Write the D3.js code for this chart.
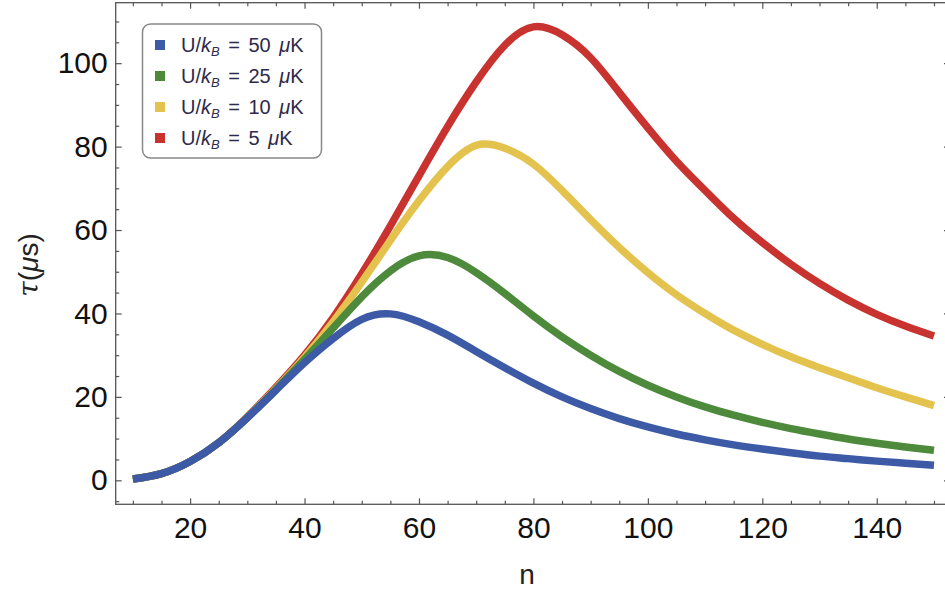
<!DOCTYPE html>
<html>
<head>
<meta charset="utf-8">
<script src="https://cdn.jsdelivr.net/npm/d3@7"></script>
<style>
	body { margin: 0; background: #fff; }
	svg { display: block; font-family: "Liberation Sans", Arial, sans-serif; }
</style>
</head>
<body>
<svg id="chart"></svg>
<script>
// sample points (n -> tau in microseconds)
const nValues = [10, 15, 20, 25, 30, 35, 40, 45, 50, 55, 60, 65, 70, 75, 80, 85, 90, 95, 100, 105, 110, 115, 120, 125, 130, 135, 140, 145, 150];

const tau50 = [0.3, 1.6, 4.5, 9.0, 15.0, 21.6, 28.2, 34.0, 38.6, 39.9, 38.0, 34.8, 30.9, 27.0, 23.3, 20.0, 17.2, 14.8, 12.8, 11.1, 9.7, 8.5, 7.5, 6.6, 5.8, 5.2, 4.6, 4.1, 3.6];
const tau25 = [0.3, 1.6, 4.5, 9.0, 15.0, 21.8, 29.0, 36.5, 44.0, 50.2, 53.8, 53.4, 49.8, 44.8, 39.4, 34.4, 30.0, 26.1, 22.8, 20.0, 17.6, 15.6, 13.9, 12.4, 11.1, 9.9, 8.9, 8.0, 7.2];
const tau10 = [0.3, 1.6, 4.5, 9.0, 15.1, 22.0, 29.5, 38.0, 47.5, 57.5, 67.0, 75.2, 80.3, 79.6, 75.8, 69.5, 62.5, 55.8, 49.8, 44.5, 40.0, 36.0, 32.6, 29.6, 27.0, 24.6, 22.2, 20.0, 17.9];
const tau5 = [0.3, 1.6, 4.5, 9.0, 15.2, 22.3, 30.0, 39.0, 49.5, 61.0, 73.0, 84.8, 95.5, 104.3, 108.7, 106.8, 101.3, 93.0, 84.5, 76.5, 69.5, 62.8, 57.0, 51.8, 47.2, 43.2, 39.8, 37.0, 34.6];

const seriesLabels = ["50", "25", "10", "5"];
const seriesColors = ["#3d5aa6", "#4e8a3b", "#e4c24e", "#c8332f"];

const xMajor = [20, 40, 60, 80, 100, 120, 140];
const yMajor = [0, 20, 40, 60, 80, 100];

const W = 945, H = 597;
const frame = { left: 115.7, right: 950, top: 2.7, bottom: 504.3 };

const svg = d3.select("#chart")
	.attr("width", W)
	.attr("height", H);

var x = d3.scaleLinear()
	.domain([7.0, 152.8])
	.range([frame.left, frame.right]);

var y = d3.scaleLinear()
	.domain([-5.75, 114.5])
	.range([frame.bottom, frame.top]);

const xMinor = d3.range(10, 151, 5).filter(v => xMajor.indexOf(v) < 0);
const yMinor = d3.range(-5, 115, 5).filter(v => yMajor.indexOf(v) < 0);

svg.append("defs").append("clipPath")
	.attr("id", "plot-clip")
	.append("rect")
	.attr("x", frame.left)
	.attr("y", frame.top)
	.attr("width", frame.right - frame.left)
	.attr("height", frame.bottom - frame.top);

// curves, blue last so it sits on top where they overlap
const series = [tau50, tau25, tau10, tau5];
const line = d3.line()
	.x((d, i) => x(nValues[i]))
	.y(d => y(d))
	.curve(d3.curveNatural);

svg.append("g")
	.attr("clip-path", "url(#plot-clip)")
	.selectAll("path")
	.data(series.map((s, i) => ({ values: s, color: seriesColors[i] })).reverse())
	.join("path")
	.attr("d", d => line(d.values))
	.attr("fill", "none")
	.attr("stroke", d => d.color)
	.attr("stroke-width", 7.5)
	.attr("stroke-linejoin", "round");

// frame
const frameColor = "#555";
svg.append("rect")
	.attr("x", frame.left)
	.attr("y", frame.top)
	.attr("width", frame.right - frame.left)
	.attr("height", frame.bottom - frame.top)
	.attr("fill", "none")
	.attr("stroke", frameColor)
	.attr("stroke-width", 1.3);

function styleAxis(g) {
	g.select(".domain").remove();
	g.selectAll(".tick line").attr("stroke", frameColor).attr("stroke-width", 1.2);
	g.selectAll(".tick text")
		.attr("fill", "#111")
		.style("font-size", "30px");
}

// labelled axes
svg.append("g")
	.attr("transform", `translate(0,${frame.bottom})`)
	.call(d3.axisBottom(x).tickValues(xMajor).tickSize(-6).tickPadding(12))
	.call(styleAxis);

svg.append("g")
	.attr("transform", `translate(${frame.left},0)`)
	.call(d3.axisLeft(y).tickValues(yMajor).tickSize(-6).tickPadding(8))
	.call(styleAxis);

// unlabelled major ticks on top and right
svg.append("g")
	.attr("transform", `translate(0,${frame.top})`)
	.call(d3.axisTop(x).tickValues(xMajor).tickSize(-6).tickFormat(""))
	.call(styleAxis);

svg.append("g")
	.attr("transform", `translate(${frame.right},0)`)
	.call(d3.axisRight(y).tickValues(yMajor).tickSize(-6).tickFormat(""))
	.call(styleAxis);

// minor ticks on all four sides
svg.append("g")
	.attr("transform", `translate(0,${frame.bottom})`)
	.call(d3.axisBottom(x).tickValues(xMinor).tickSize(-3.5).tickFormat(""))
	.call(styleAxis);
svg.append("g")
	.attr("transform", `translate(0,${frame.top})`)
	.call(d3.axisTop(x).tickValues(xMinor).tickSize(-3.5).tickFormat(""))
	.call(styleAxis);
svg.append("g")
	.attr("transform", `translate(${frame.left},0)`)
	.call(d3.axisLeft(y).tickValues(yMinor).tickSize(-3.5).tickFormat(""))
	.call(styleAxis);
svg.append("g")
	.attr("transform", `translate(${frame.right},0)`)
	.call(d3.axisRight(y).tickValues(yMinor).tickSize(-3.5).tickFormat(""))
	.call(styleAxis);

// axis titles
svg.append("text")
	.attr("x", 527)
	.attr("y", 584)
	.attr("text-anchor", "middle")
	.attr("fill", "#222")
	.style("font-size", "28px")
	.text("n");

const yTitle = svg.append("text")
	.attr("transform", "translate(38,265) rotate(-90)")
	.attr("text-anchor", "middle")
	.attr("fill", "#222")
	.style("font-size", "28px");
yTitle.append("tspan").style("font-style", "italic").style("font-family", "'DejaVu Serif', serif").text("τ");
yTitle.append("tspan").text("(");
yTitle.append("tspan").style("font-style", "italic").text("μ");
yTitle.append("tspan").text("s)");

// legend
const legend = svg.append("g");
legend.append("rect")
	.attr("x", 142.5)
	.attr("y", 24)
	.attr("width", 179)
	.attr("height", 134)
	.attr("rx", 8)
	.attr("fill", "#fff")
	.attr("stroke", "#888")
	.attr("stroke-width", 1.5);

const rows = legend.selectAll("g.row")
	.data(seriesLabels)
	.join("g")
	.attr("class", "row")
	.attr("transform", (d, i) => `translate(0,${45 + i * 31})`);

rows.append("rect")
	.attr("x", 155)
	.attr("y", -5)
	.attr("width", 10)
	.attr("height", 10)
	.attr("fill", (d, i) => seriesColors[i]);

const label = rows.append("text")
	.attr("x", 181)
	.attr("y", 7)
	.attr("fill", "#2e2a4a")
	.style("font-size", "20px")
	.style("word-spacing", "3px");
label.append("tspan").text("U/");
label.append("tspan").style("font-style", "italic").text("k");
label.append("tspan").attr("dy", 4).style("font-size", "13px").style("font-style", "italic").text("B");
label.append("tspan").attr("dy", -4).text(d => ` = ${d} `);
label.append("tspan").style("font-style", "italic").text("μ");
label.append("tspan").text("K");
</script>
</body>
</html>
